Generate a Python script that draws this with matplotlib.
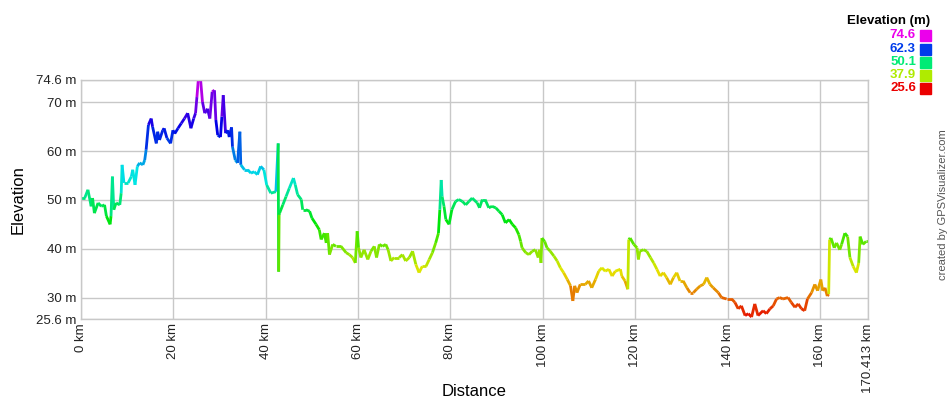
import matplotlib
matplotlib.use("Agg")
import matplotlib.pyplot as plt
import numpy as np
from matplotlib.collections import LineCollection
from matplotlib.colors import hsv_to_rgb

plt.rcParams['font.family'] = ['Liberation Sans', 'DejaVu Sans']

# elevation profile (km, m)
dist_km = [
    0.0, 0.8, 1.5, 2.2, 2.5, 2.9, 3.7, 4.4, 5.1, 5.5, 6.3, 6.5, 6.8, 7.1, 7.6, 8.4, 8.7, 8.9, 9.3, 10.2,
    10.9, 11.2, 11.7, 12.2, 12.7, 13.4, 13.8, 14.1, 14.6, 15.2, 15.5, 16.3, 16.6, 17.0, 17.7, 18.0, 18.6, 19.4, 19.9, 20.3,
    21.0, 21.7, 22.4, 23.1, 23.8, 24.4, 24.8, 25.1, 25.4, 25.9, 26.3, 26.8, 27.4, 27.9, 28.4, 28.9, 29.2, 29.6, 30.2, 30.5,
    30.8, 31.3, 31.8, 32.1, 32.6, 32.8, 33.4, 33.9, 34.4, 34.6, 35.4, 36.1, 36.8, 37.5, 38.2, 38.9, 39.6, 40.2, 41.1, 42.2,
    42.7, 42.8, 42.9, 43.0, 43.7, 44.4, 45.1, 46.0, 46.4, 46.9, 47.7, 48.0, 48.7, 49.5, 50.0, 50.9, 51.6, 52.0, 52.7, 53.1,
    53.4, 53.8, 54.5, 55.2, 56.3, 57.4, 58.1, 58.8, 59.4, 59.8, 60.1, 60.6, 61.3, 62.1, 62.8, 63.5, 64.0, 64.6, 65.3, 66.0,
    66.5, 67.1, 67.8, 68.9, 69.6, 70.3, 71.1, 71.8, 72.5, 73.2, 73.9, 74.7, 75.4, 76.1, 76.8, 77.4, 77.7, 78.0, 78.2, 78.6,
    79.0, 79.7, 80.3, 81.1, 81.8, 82.6, 83.3, 84.0, 84.7, 85.8, 86.3, 86.9, 87.5, 88.3, 89.0, 89.8, 90.5, 91.2, 91.9, 92.7,
    93.4, 94.1, 94.8, 95.2, 95.5, 96.3, 97.0, 97.7, 98.4, 99.0, 99.3, 99.6, 99.8, 100.4, 100.9, 101.6, 102.4, 103.1, 103.8, 104.5,
    105.3, 106.0, 106.5, 106.9, 107.4, 108.1, 109.2, 109.9, 110.6, 111.4, 112.1, 112.8, 113.5, 114.3, 115.0, 115.7, 116.8, 117.1, 117.8, 118.4,
    118.6, 118.9, 119.7, 120.4, 120.7, 121.0, 121.8, 122.5, 123.3, 124.0, 124.7, 125.4, 126.1, 126.8, 127.6, 128.3, 129.0, 129.7, 130.4, 131.2,
    131.9, 132.6, 133.3, 134.1, 134.8, 135.5, 136.2, 136.9, 138.0, 138.7, 139.8, 140.9, 141.6, 142.3, 143.0, 143.8, 144.5, 145.2, 145.9, 146.6,
    147.7, 148.4, 149.2, 149.9, 150.6, 151.3, 152.0, 153.1, 153.8, 154.6, 155.3, 156.0, 156.7, 157.3, 158.2, 158.9, 159.5, 160.2, 160.6, 161.1,
    161.6, 161.9, 162.1, 162.4, 163.1, 163.6, 164.3, 164.7, 165.4, 166.0, 166.5, 167.2, 167.9, 168.4, 168.7, 169.3, 170.0, 170.413,
]
elev_m = [
    50.4, 50.4, 52.1, 48.7, 50.4, 47.3, 49.4, 48.7, 49.0, 46.7, 45.0, 46.7, 54.8, 48.0, 49.4, 49.0, 51.4, 57.2, 53.5, 53.5,
    54.8, 56.2, 53.1, 56.9, 57.6, 57.2, 58.2, 60.3, 65.4, 66.7, 65.0, 61.6, 64.0, 62.3, 64.3, 64.7, 62.7, 61.6, 64.3, 63.6,
    64.7, 65.7, 66.7, 67.8, 64.7, 66.7, 67.8, 71.1, 74.6, 74.6, 70.1, 67.8, 68.7, 66.7, 72.2, 72.5, 66.4, 63.3, 62.9, 67.1,
    71.5, 63.7, 64.3, 62.9, 64.9, 60.9, 58.2, 57.6, 64.0, 57.2, 56.2, 56.2, 55.5, 55.8, 55.2, 56.9, 56.2, 53.1, 51.4, 51.7,
    61.6, 35.3, 47.0, 47.3, 49.0, 50.7, 52.4, 54.5, 53.1, 51.1, 50.1, 48.0, 48.0, 47.7, 46.3, 45.0, 43.9, 41.9, 43.2, 41.2,
    43.2, 38.8, 40.9, 40.5, 40.5, 39.2, 38.8, 38.2, 37.1, 43.6, 40.2, 38.2, 39.8, 37.8, 39.5, 40.5, 38.2, 40.9, 40.5, 40.9,
    39.8, 37.5, 38.2, 38.2, 38.8, 37.5, 38.2, 39.5, 36.8, 35.1, 36.4, 36.4, 37.8, 39.2, 41.2, 43.2, 48.0, 54.1, 50.7, 48.7,
    46.0, 45.0, 48.0, 49.7, 50.1, 49.7, 49.0, 49.7, 50.4, 49.4, 48.4, 50.1, 50.1, 48.4, 48.7, 48.4, 47.7, 47.0, 45.3, 46.0,
    45.0, 44.3, 42.9, 41.5, 40.2, 39.2, 38.8, 39.5, 39.8, 38.2, 39.8, 37.1, 42.2, 41.5, 40.2, 39.5, 38.5, 37.5, 36.1, 35.1,
    33.7, 32.4, 29.3, 32.4, 31.0, 32.7, 32.7, 33.4, 32.0, 33.7, 35.4, 36.1, 35.4, 35.8, 34.4, 35.4, 35.8, 34.4, 33.4, 31.7,
    41.9, 42.2, 40.9, 40.2, 37.8, 39.5, 39.8, 39.5, 38.2, 37.1, 35.8, 34.4, 35.1, 34.1, 32.7, 34.1, 35.1, 33.4, 33.4, 32.0,
    31.0, 31.0, 31.7, 32.4, 32.7, 34.1, 32.7, 32.0, 31.0, 30.0, 29.7, 29.7, 29.0, 27.7, 28.3, 26.3, 26.7, 26.0, 28.7, 26.3,
    27.3, 26.7, 27.7, 28.3, 29.7, 30.0, 29.7, 30.0, 29.0, 28.0, 28.7, 27.7, 27.3, 29.7, 31.0, 32.7, 31.4, 33.7, 31.4, 32.0,
    30.3, 30.7, 41.9, 42.2, 40.2, 41.2, 39.8, 40.9, 43.2, 42.5, 38.2, 36.4, 35.1, 37.1, 42.5, 40.9, 41.5, 41.5,
]

elev_min = 25.6
elev_max = 74.6
total_km = 170.413
y_ticks = [25.6, 30, 40, 50, 60, 70, 74.6]
x_ticks = [0, 20, 40, 60, 80, 100, 120, 140, 160, 170.413]
legend_values = [74.6, 62.3, 50.1, 37.9, 25.6]


def elev_color(value, v=0.9):
    # red at the lowest point, round the hue wheel to magenta at the highest
    frac = np.clip((np.asarray(value) - elev_min) / (elev_max - elev_min), 0, 1)
    hsv = np.stack([frac * 300.0 / 360.0, np.ones_like(frac), np.full_like(frac, v)], axis=-1)
    return hsv_to_rgb(hsv)


fig = plt.figure(figsize=(9.5, 4.0), dpi=100)
ax = fig.add_axes([81 / 950, 1 - 319 / 400, (868 - 81) / 950, (319 - 80) / 400])

x = np.array(dist_km)
y = np.array(elev_m)
pts = np.column_stack([x, y]).reshape(-1, 1, 2)
segs = np.concatenate([pts[:-1], pts[1:]], axis=1)
seg_elev = (y[:-1] + y[1:]) / 2
lc = LineCollection(segs, colors=elev_color(seg_elev), linewidths=2.0, capstyle='butt', joinstyle='miter')
ax.add_collection(lc)

ax.set_xlim(0, total_km)
ax.set_ylim(elev_min, elev_max)

ax.set_yticks(y_ticks)
ax.set_yticklabels([f"{t:g} m" for t in y_ticks], fontsize=9.5)
ax.set_xticks(x_ticks)
ax.set_xticklabels([f"{t:g} km" for t in x_ticks], fontsize=9.5, rotation=90)
ax.tick_params(length=0, pad=3, colors='#222222')
ax.grid(True, color='#c8c8c8', linewidth=1)
ax.set_axisbelow(True)
for sp in ax.spines.values():
    sp.set_color('#c8c8c8')
    sp.set_linewidth(1)

ax.set_xlabel('Distance', fontsize=12, va='center')
ax.xaxis.set_label_coords(0.5, (319 - 391) / 239)
ax.set_ylabel('Elevation', fontsize=12, labelpad=8)

# colour key, top right
fig.text(930 / 950, 1 - 21 / 400, 'Elevation (m)', ha='right', va='center', fontsize=9.5, fontweight='bold')
row_y = [35, 49, 62, 75, 88]
for val, ry in zip(legend_values, row_y):
    col = elev_color(val, v=0.92)
    fig.text(916 / 950, 1 - ry / 400, f"{val:.1f}", ha='right', va='center', fontsize=9.5,
             fontweight='bold', color=col)
    fig.patches.append(plt.Rectangle((920 / 950, 1 - (ry + 5.5) / 400), 11 / 950, 11 / 400,
                                     transform=fig.transFigure, color=col, figure=fig))

fig.text(943 / 950, 1 - 205 / 400, 'created by GPSVisualizer.com', rotation=90, ha='center', va='center',
         fontsize=8, color='#555555')

fig.savefig('out.png', dpi=100)
